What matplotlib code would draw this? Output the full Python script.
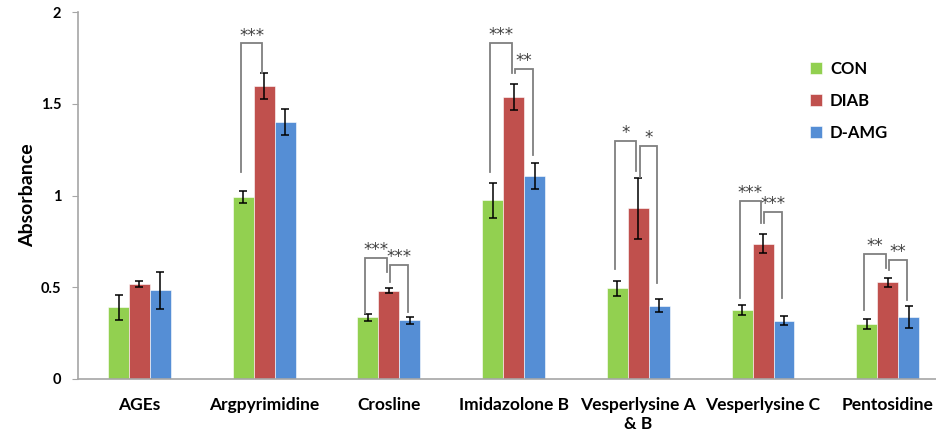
import matplotlib
matplotlib.use("Agg")
import matplotlib.pyplot as plt
import numpy as np

plt.rcParams['font.family'] = ['Lato', 'DejaVu Sans']

# ---- data ----
categories = ["AGEs", "Argpyrimidine", "Crosline", "Imidazolone B",
              "Vesperlysine A\n& B", "Vesperlysine C", "Pentosidine"]
groups = ["CON", "DIAB", "D-AMG"]

con = [0.39, 0.99, 0.336, 0.975, 0.494, 0.376, 0.298]
con_err = [0.07, 0.033, 0.02, 0.095, 0.041, 0.025, 0.028]
diab = [0.518, 1.597, 0.481, 1.538, 0.930, 0.736, 0.527]
diab_err = [0.017, 0.069, 0.015, 0.072, 0.165, 0.052, 0.025]
damg = [0.483, 1.40, 0.32, 1.106, 0.40, 0.318, 0.338]
damg_err = [0.10, 0.072, 0.019, 0.07, 0.037, 0.026, 0.062]

# significance brackets: (category, left bar, right bar, top, left leg bottom, right leg bottom, label)
brackets = [
    (1, 0, 1, 1.829, 1.130, 1.666, "***"),
    (2, 0, 1, 0.658, 0.361, 0.585, "***"),
    (2, 1, 2, 0.621, 0.529, 0.367, "***"),
    (3, 0, 1, 1.833, 1.130, 1.669, "***"),
    (3, 1, 2, 1.688, 1.668, 1.221, "**"),
    (4, 0, 1, 1.297, 0.599, 1.135, "*"),
    (4, 1, 2, 1.270, 1.100, 0.525, "*"),
    (5, 0, 1, 0.970, 0.440, 0.849, "***"),
    (5, 1, 2, 0.912, 0.850, 0.440, "***"),
    (6, 0, 1, 0.680, 0.376, 0.603, "**"),
    (6, 1, 2, 0.649, 0.594, 0.431, "**"),
]

colors = ["#92D050", "#C0504D", "#558ED5"]

fig = plt.figure(figsize=(9.37, 4.38), dpi=100)
ax = fig.add_axes([78 / 937, 59 / 438, 1 - 78 / 937, 367 / 438])

x = np.arange(len(categories))
width = 0.168
series = [(con, con_err), (diab, diab_err), (damg, damg_err)]
for i, (vals, errs) in enumerate(series):
    ax.bar(x + (i - 1) * width, vals, width, color=colors[i], label=groups[i],
           edgecolor="white", linewidth=0.4, zorder=2)
    ax.errorbar(x + (i - 1) * width, vals, yerr=errs, fmt="none", ecolor="black",
                elinewidth=1.1, capsize=3, capthick=1.1, zorder=3)

for cat, b1, b2, top, lb, rb, label in brackets:
    xl = cat + (b1 - 1) * width + (0.01 if b1 == 1 else -0.02)
    xr = cat + (b2 - 1) * width - 0.015
    ax.plot([xl, xl, xr, xr], [lb, top, top, rb], color="#7f7f7f", lw=1.3,
            solid_joinstyle="miter", zorder=4)
    ax.annotate(label, ((xl + xr) / 2, top), xytext=(0, 2), textcoords="offset points",
                ha="center", va="baseline", fontsize=12, color="#404040",
                family="DejaVu Sans", zorder=5)

ax.set_xlim(-0.493, 6.395)
ax.set_ylim(0, 2)
ax.set_yticks([0, 0.5, 1, 1.5, 2])
ax.set_yticklabels(["0", "0.5", "1", "1.5", "2"], fontweight="bold", fontsize=10.5)
ax.set_xticks(x)
ax.set_xticklabels(categories, fontweight="bold", fontsize=12.5, linespacing=1.2)
ax.tick_params(axis="x", length=0, pad=13)
ax.tick_params(axis="y", length=4, color="#a6a6a6", pad=8)
for side in ["top", "right"]:
    ax.spines[side].set_visible(False)
for side in ["left", "bottom"]:
    ax.spines[side].set_color("#a6a6a6")
    ax.spines[side].set_linewidth(1.2)
ax.set_ylabel("Absorbance", fontweight="bold", fontsize=14)
ax.yaxis.set_label_coords(-42 / 859, 0.5)

leg = ax.legend(loc="upper left", bbox_to_anchor=(795 / 937, 1 - 46 / 438),
                bbox_transform=fig.transFigure, frameon=False,
                handlelength=0.7, handleheight=0.7, handletextpad=0.5,
                labelspacing=0.95, prop={"weight": "bold", "size": 12})

fig.savefig("out.png", dpi=100)
